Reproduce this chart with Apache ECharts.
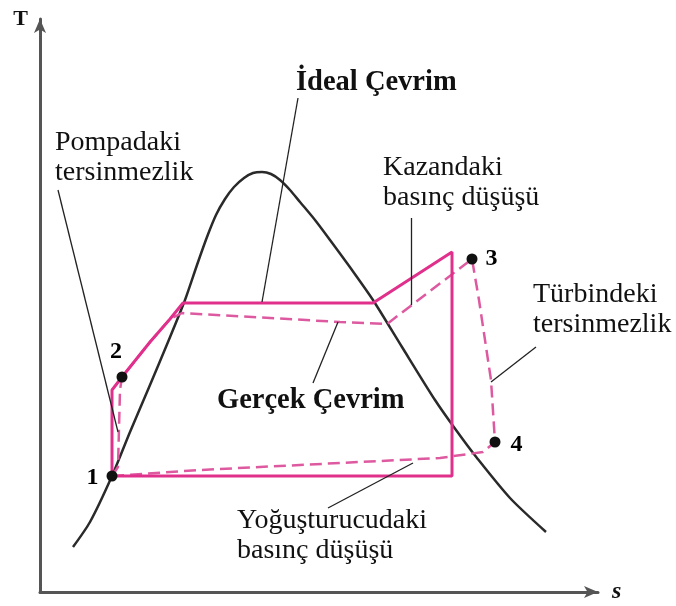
<!DOCTYPE html>
<html>
<head>
<meta charset="utf-8">
<script src="https://cdn.jsdelivr.net/npm/echarts@6/dist/echarts.min.js"></script>
<style>
  html, body { margin: 0; padding: 0; background: #fff; }
  #ts { width: 676px; height: 606px; }
</style>
</head>
<body>
<div id="ts"></div>
<script>
// doyma egrisi (s, T)
var domeCurve = [
  [33,45],[50,70],[72,116],[90,160],[110,207],[128,250],[145,292],[157,327],
  [167,355],[176,377],[185,393],[194,405],[204,414],[213,419],[222,420],
  [231,418],[240,412],[250,402],[260,390],[275,372],[290,352],[312,322],
  [333,292],[362,245],[395,192],[416,162],[437,134],[470,94],[506,60]
];

// ideal cevrim: 1 -> 2 -> kazan -> 3 -> 4 -> 1
var idealCycle = [
  [72,116],[72,202],[82,215],[110,250],[130,273],[143,289],[333,289],
  [412,340],[412,116],[72,116]
];

// gercek cevrim
var actualCycle = [
  [72,116],[78,125],[80,202],[82,215],[110,250],[130,273],[142,279],
  [300,270],[347,268],[432,333],[439,292],[451,212],[455,150],
  [443,140],[400,134],[160,122],[72,116]
];

// durum noktalari
var stateNames = ['1', '2', '3', '4'];
var stateS = [72, 82, 432, 455];
var stateT = [116, 215, 333, 150];

// aciklama cizgileri
var leaders = [
  [[18,402],[78,160]],
  [[258,494],[222,290]],
  [[371,374],[371,287]],
  [[496,245],[451,210]],
  [[273,209],[298,270]],
  [[288,84],[373,129]]
];

var notes = ['Pompadaki\ntersinmezlik', 'Kazandaki\nbasınç düşüşü', 'Türbindeki\ntersinmezlik',
  'Yoğuşturucudaki\nbasınç düşüşü'];
var titles = ['İdeal Çevrim', 'Gerçek Çevrim'];

var serif = '"Liberation Serif", "DejaVu Serif", serif';
var pink = '#e0308c';
var pinkDash = '#de5aa0';

var myChart = echarts.init(document.getElementById('ts'));

var labelPos = ['left', 'top', 'right', 'right'];
var labelOff = [[0, 2], [-6, 0], [0, 0], [2, 3]];
var stateData = stateNames.map(function (n, i) {
  return {
    name: n,
    value: [stateS[i], stateT[i]],
    label: { position: labelPos[i], offset: labelOff[i] }
  };
});

// metin konumlari (piksel)
var notePos = [[55, 128], [383, 153], [533, 280], [237, 506]];
var titlePos = [[296, 68], [217, 386]];

var graphics = [];
notes.forEach(function (t, i) {
  graphics.push({
    type: 'text', x: notePos[i][0], y: notePos[i][1], z: 10,
    style: { text: t, font: '28px ' + serif, fill: '#111', lineHeight: 30, verticalAlign: 'top' }
  });
});
titles.forEach(function (t, i) {
  graphics.push({
    type: 'text', x: titlePos[i][0], y: titlePos[i][1], z: 10,
    style: { text: t, font: 'bold 28.5px ' + serif, fill: '#111', verticalAlign: 'top' }
  });
});

var option = {
  animation: false,
  backgroundColor: '#fff',
  grid: { left: 40, right: 78, top: 19, bottom: 14 },
  xAxis: {
    type: 'value', min: 0, max: 558,
    name: 's', nameLocation: 'end', nameGap: 14,
    nameTextStyle: { fontFamily: serif, fontSize: 24, fontWeight: 'bold', fontStyle: 'italic', color: '#111', verticalAlign: 'middle', padding: [6, 0, 0, 0] },
    axisLine: { symbol: ['none', 'arrow'], symbolSize: [9, 14], lineStyle: { color: '#555', width: 3 } },
    axisTick: { show: false }, axisLabel: { show: false }, splitLine: { show: false }
  },
  yAxis: {
    type: 'value', min: 0, max: 573,
    name: 'T', nameLocation: 'end', nameGap: 0,
    nameTextStyle: { fontFamily: serif, fontSize: 22, fontWeight: 'bold', color: '#111', align: 'right', verticalAlign: 'middle', padding: [2, 12, 0, 0] },
    axisLine: { symbol: ['none', 'arrow'], symbolSize: [9, 14], lineStyle: { color: '#555', width: 3 } },
    axisTick: { show: false }, axisLabel: { show: false }, splitLine: { show: false }
  },
  graphic: graphics,
  series: [
    {
      name: 'dome', type: 'line', data: domeCurve, smooth: 0.25,
      showSymbol: false, z: 2,
      lineStyle: { color: '#2a2a2a', width: 2.5 }
    },
    {
      name: 'gercek', type: 'line', data: actualCycle, showSymbol: false, z: 3,
      lineStyle: { color: pinkDash, width: 2.5, type: [12, 6] }
    },
    {
      name: 'ideal', type: 'line', data: idealCycle, showSymbol: false, z: 4,
      lineStyle: { color: pink, width: 3 }
    },
    {
      name: 'leaders', type: 'lines', coordinateSystem: 'cartesian2d', z: 5,
      data: leaders.map(function (c) { return { coords: c }; }),
      lineStyle: { color: '#222', width: 1.3, opacity: 1 }
    },
    {
      name: 'durum', type: 'scatter', data: stateData, symbolSize: 11, z: 6,
      itemStyle: { color: '#111', opacity: 1 },
      label: {
        show: true, formatter: '{b}', distance: 8,
        fontFamily: serif, fontSize: 24, fontWeight: 'bold', color: '#000', opacity: 1
      }
    }
  ]
};

myChart.setOption(option);
</script>
</body>
</html>
